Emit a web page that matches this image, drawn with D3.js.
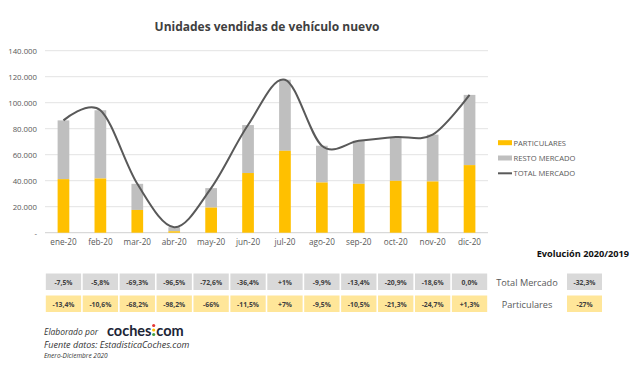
<!DOCTYPE html>
<html>
<head>
<meta charset="utf-8">
<script src="https://d3js.org/d3.v7.min.js"></script>
<style>
  body { margin: 0; background: #fff; }
  svg { font-family: "Open Sans", "Liberation Sans", sans-serif; }
</style>
</head>
<body>
<svg width="637" height="365"></svg>
<script>
// values
var months = ["ene-20", "feb-20", "mar-20", "abr-20", "may-20", "jun-20", "jul-20", "ago-20", "sep-20", "oct-20", "nov-20", "dic-20"];
var particulares = [41200, 41700, 17500, 1100, 19300, 45900, 63000, 38600, 37600, 39900, 39400, 52000];
var totalMercado = [86400, 94200, 37600, 4200, 34300, 82800, 117700, 66900, 70700, 73600, 75400, 106000];
var yTicks = [0, 20000, 40000, 60000, 80000, 100000, 120000, 140000];
var evoTotal = ["-7,5%", "-5,8%", "-69,3%", "-96,5%", "-72,6%", "-36,4%", "+1%", "-9,9%", "-13,4%", "-20,9%", "-18,6%", "0,0%"];
var evoPart = ["-13,4%", "-10,6%", "-68,2%", "-98,2%", "-66%", "-11,5%", "+7%", "-9,5%", "-10,5%", "-21,3%", "-24,7%", "+1,3%"];
var evoYear = ["-32,3%", "-27%"];

var svg = d3.select("svg");
var yellow = "#FFC000", grey = "#BFBFBF", lineCol = "#595959", txt = "#595959";

var x = d3.scaleBand().domain(months).range([45, 488]);
var y = d3.scaleLinear().domain([0, 140000]).range([232.7, 50.7]);

// title
svg.append("text").attr("x", 267).attr("y", 31)
  .attr("text-anchor", "middle").attr("font-size", 12).attr("font-weight", "bold")
  .attr("fill", "#404040").text("Unidades vendidas de vehículo nuevo");

// grid
svg.append("g").selectAll("line").data(yTicks).enter().append("line")
  .attr("x1", 45).attr("x2", 488)
  .attr("y1", function (d) { return y(d); }).attr("y2", function (d) { return y(d); })
  .attr("stroke", function (d) { return d == 0 ? "#D0D0D0" : "#E3E3E3"; }).attr("stroke-width", 1);

// y labels
var yAxis = svg.append("g").attr("transform", "translate(40,0)")
  .call(d3.axisLeft(y).tickValues(yTicks).tickSize(0)
    .tickFormat(function (d) { return d == 0 ? "-" : d3.format(",")(d).replace(/,/g, "."); }));
yAxis.select(".domain").remove();
yAxis.selectAll("text").attr("font-size", 7.8).attr("fill", txt).attr("font-family", "Open Sans, sans-serif");

// x labels
var xAxis = svg.append("g").attr("transform", "translate(0,236)")
  .call(d3.axisBottom(x).tickSize(0));
xAxis.select(".domain").remove();
xAxis.selectAll("text").attr("font-size", 8.2).attr("fill", txt).attr("font-family", "Open Sans, sans-serif");

// bars
var bw = 11.7;
var bars = svg.append("g");
bars.selectAll(".rest").data(months).enter().append("rect")
  .attr("x", function (d) { return x(d) + x.bandwidth() / 2 - bw / 2; })
  .attr("width", bw)
  .attr("y", function (d, i) { return y(totalMercado[i]); })
  .attr("height", function (d, i) { return y(particulares[i]) - y(totalMercado[i]); })
  .attr("fill", grey);
bars.selectAll(".part").data(months).enter().append("rect")
  .attr("x", function (d) { return x(d) + x.bandwidth() / 2 - bw / 2; })
  .attr("width", bw)
  .attr("y", function (d, i) { return y(particulares[i]); })
  .attr("height", function (d, i) { return y(0) - y(particulares[i]); })
  .attr("fill", yellow);

// total line
var line = d3.line()
  .x(function (d, i) { return x(months[i]) + x.bandwidth() / 2; })
  .y(function (d) { return y(d); })
  .curve(d3.curveCardinal.tension(0));
svg.append("path").datum(totalMercado).attr("d", line)
  .attr("fill", "none").attr("stroke", lineCol).attr("stroke-width", 2);

// legend
var leg = [["PARTICULARES", "rect", yellow], ["RESTO MERCADO", "rect", grey], ["TOTAL MERCADO", "line", lineCol]];
var lg = svg.append("g").selectAll("g").data(leg).enter().append("g")
  .attr("transform", function (d, i) { return "translate(498," + (142.7 + i * 15.3) + ")"; });
lg.filter(function (d) { return d[1] == "rect"; }).append("rect")
  .attr("x", 0).attr("y", -2.5).attr("width", 14).attr("height", 5).attr("fill", function (d) { return d[2]; });
lg.filter(function (d) { return d[1] == "line"; }).append("line")
  .attr("x1", 0).attr("x2", 14).attr("stroke", lineCol).attr("stroke-width", 2);
lg.append("text").attr("x", 15.5).attr("y", 3).attr("font-size", 7.6).attr("fill", txt)
  .text(function (d) { return d[0]; });

// evolution table
svg.append("text").attr("x", 629).attr("y", 256.5).attr("text-anchor", "end")
  .attr("font-size", 9.2).attr("font-weight", "bold").attr("fill", "#111").text("Evolución 2020/2019");

function row(vals, y0, fill) {
  var g = svg.append("g");
  g.selectAll("rect").data(vals).enter().append("rect")
    .attr("x", function (d, i) { return x(months[i]) + 0.8; })
    .attr("y", y0).attr("width", x.bandwidth() - 1.6).attr("height", 16.5).attr("fill", fill);
  g.selectAll("text").data(vals).enter().append("text")
    .attr("x", function (d, i) { return x(months[i]) + x.bandwidth() / 2; })
    .attr("y", y0 + 11).attr("text-anchor", "middle").attr("font-size", 6.8)
    .attr("font-weight", "bold").attr("fill", "#404040").text(function (d) { return d; });
}
row(evoTotal, 273.5, "#D9D9D9");
row(evoPart, 295.5, "#FFE699");

svg.append("text").attr("x", 527).attr("y", 285.5).attr("text-anchor", "middle")
  .attr("font-size", 9.2).attr("fill", txt).text("Total Mercado");
svg.append("text").attr("x", 527).attr("y", 307.5).attr("text-anchor", "middle")
  .attr("font-size", 9.2).attr("fill", txt).text("Particulares");

svg.selectAll(".yr").data(evoYear).enter().append("rect")
  .attr("x", 567).attr("y", function (d, i) { return i == 0 ? 273.5 : 295.5; })
  .attr("width", 35).attr("height", 16.5)
  .attr("fill", function (d, i) { return i == 0 ? "#D9D9D9" : "#FFE699"; });
svg.selectAll(".yrt").data(evoYear).enter().append("text")
  .attr("x", 584.5).attr("y", function (d, i) { return (i == 0 ? 273.5 : 295.5) + 11; })
  .attr("text-anchor", "middle").attr("font-size", 6.8).attr("font-weight", "bold")
  .attr("fill", "#404040").text(function (d) { return d; });

// footer
svg.append("text").attr("x", 44).attr("y", 334.5).attr("font-size", 9.5).attr("font-style", "italic")
  .attr("fill", "#333").attr("textLength", 54).attr("lengthAdjust", "spacingAndGlyphs").text("Elaborado por");
var logo = svg.append("g").attr("font-size", 14.5).attr("font-weight", "bold").attr("fill", "#1c2536")
  .attr("font-family", "Lato, sans-serif");
var c1 = logo.append("text").attr("x", 107).attr("y", 335.5).text("coches");
var cx = 107 + c1.node().getComputedTextLength() + 2.2;
logo.append("circle").attr("cx", cx).attr("cy", 325.5).attr("r", 1.6).attr("fill", "#E53935");
logo.append("circle").attr("cx", cx).attr("cy", 330).attr("r", 1.6).attr("fill", "#FFC000");
logo.append("circle").attr("cx", cx).attr("cy", 334.5).attr("r", 1.6).attr("fill", "#43A047");
logo.append("text").attr("x", cx + 2.6).attr("y", 335.5).text("com");
svg.append("text").attr("x", 44).attr("y", 347.5).attr("font-size", 9).attr("font-style", "italic")
  .attr("fill", "#333").text("Fuente datos: EstadisticaCoches.com");
svg.append("text").attr("x", 44).attr("y", 357.5).attr("font-size", 6.5).attr("font-style", "italic")
  .attr("fill", "#333").text("Enero-Diciembre 2020");
</script>
</body>
</html>
